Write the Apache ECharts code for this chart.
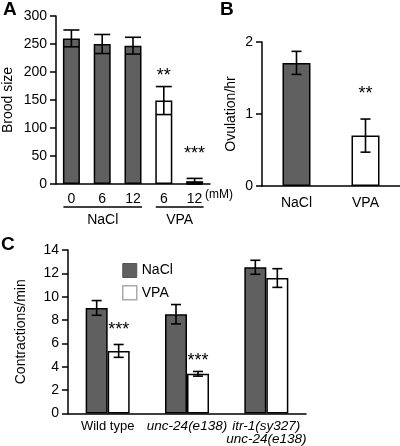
<!DOCTYPE html>
<html><head><meta charset="utf-8">
<script src="https://cdn.jsdelivr.net/npm/echarts@6/dist/echarts.min.js"></script>
<style>html,body{margin:0;padding:0;background:#fff}#c{width:400px;height:446px}</style>
</head><body><div id="c"></div>
<script>
// ---- Panel A: brood size ----
const broodCats = ['0', '6', '12', '6', '12'];
const broodGroup = ['NaCl', 'NaCl', 'NaCl', 'VPA', 'VPA'];
const broodMean = [260, 250, 247, 149, 5];
const broodErr = [15, 17, 15, 25, 5];
const broodStars = ['', '', '', '**', '***'];
const broodStarY = [null, null, null, 200, 60];
const broodGroupNames = ['NaCl', 'VPA'];
const broodGroupRanges = [[0, 2], [3, 4]];
const broodTicks = [0, 300, 50];

// ---- Panel B: ovulation ----
const ovCats = ['NaCl', 'VPA'];
const ovMean = [1.71, 0.70];
const ovErr = [0.16, 0.23];
const ovStars = ['', '**'];
const ovStarY = [null, 1.33];
const ovTicks = [0, 2, 1];

// ---- Panel C: contractions ----
const strainCats = ['Wild type', 'unc-24(e138)', 'itr-1(sy327)\nunc-24(e138)'];
const strainItalic = [false, true, true];
const contrNaCl = [9.04, 8.5, 12.52];
const contrNaClErr = [0.63, 0.83, 0.6];
const contrVPA = [5.36, 3.4, 11.6];
const contrVPAErr = [0.55, 0.2, 0.8];
const contrStars = ['***', '***', ''];
const contrStarY = [7.5, 4.8, null];
const contrTicks = [0, 14, 2];

const F = '"Liberation Sans", Arial, Helvetica, sans-serif';
const GRAY = '#606060';
const groupColor = {NaCl: GRAY, VPA: '#ffffff'};
const black = '#000';
const STAR_FS = 18;

function yAx(grid, t, name, gap) {
  return {
    gridIndex: grid, type: 'value', min: t[0], max: t[1], interval: t[2],
    name: name, nameLocation: 'middle', nameGap: gap,
    nameTextStyle: {color: black, fontSize: 14, fontFamily: F},
    axisLine: {show: true, lineStyle: {color: black, width: 1.5}},
    axisTick: {show: true, length: 6, lineStyle: {color: black, width: 1.5}},
    axisLabel: {color: black, fontSize: 14, fontFamily: F, margin: 9},
    splitLine: {show: false}
  };
}
function xAx(grid, data, extra) {
  return Object.assign({
    gridIndex: grid, type: 'category', data: data,
    axisTick: {show: false},
    axisLine: {lineStyle: {color: black, width: 1.5}},
    axisLabel: {color: black, fontSize: 14, fontFamily: F, margin: 8}
  }, extra || {});
}
function errSeries(ax, means, errs, stars, starY, offset, cap) {
  return {
    type: 'custom', xAxisIndex: ax, yAxisIndex: ax, silent: true, z: 10,
    data: means.map((m, i) => [i, m, errs[i]]),
    encode: {x: 0, y: 1},
    renderItem: function (params, api) {
      const i = api.value(0), m = api.value(1), e = api.value(2);
      const t = api.coord([i, m + e]), b = api.coord([i, m - e]);
      const x = t[0] + offset;
      const st = {stroke: black, lineWidth: 1.6};
      const ch = [
        {type: 'line', shape: {x1: x, y1: t[1], x2: x, y2: b[1]}, style: st},
        {type: 'line', shape: {x1: x - cap / 2, y1: t[1], x2: x + cap / 2, y2: t[1]}, style: st},
        {type: 'line', shape: {x1: x - cap / 2, y1: b[1], x2: x + cap / 2, y2: b[1]}, style: st}
      ];
      const idx = params.dataIndex;
      if (stars[idx]) {
        const s = api.coord([i, starY[idx]]);
        ch.push({type: 'text', x: x, y: s[1] + STAR_FS * 0.22, style: {text: stars[idx], fill: black, font: STAR_FS + 'px ' + F, align: 'center', verticalAlign: 'middle'}});
      }
      return {type: 'group', children: ch};
    }
  };
}

const option = {
  animation: false,
  backgroundColor: '#fff',
  grid: [
    {left: 55, top: 16, width: 155, height: 168},
    {left: 262, top: 42, width: 138, height: 144},
    {left: 68, top: 250, width: 238, height: 167}
  ],
  xAxis: [
    xAx(0, broodCats),
    xAx(1, ovCats, {axisLabel: {color: black, fontSize: 14, fontFamily: F, margin: 10}}),
    xAx(2, strainCats, {axisLabel: {
      color: black, fontSize: 13, fontFamily: F, margin: 6, lineHeight: 13, interval: 0,
      formatter: function (v, i) { return strainItalic[i] ? v.split('\n').map(s => '{it|' + s + '}').join('\n') : v; },
      rich: {it: {fontStyle: 'italic', fontSize: 13.5, fontFamily: F, color: black, lineHeight: 13}}
    }})
  ],
  yAxis: [
    yAx(0, broodTicks, 'Brood size', 41),
    yAx(1, ovTicks, 'Ovulation/hr', 24),
    yAx(2, contrTicks, 'Contractions/min', 40)
  ],
  legend: {
    data: [
      {name: 'NaCl', itemStyle: {color: GRAY, borderColor: '#555', borderWidth: 1}},
      {name: 'VPA', itemStyle: {color: '#fff', borderColor: '#aaa', borderWidth: 1.5}}
    ],
    orient: 'vertical', left: 117, top: 258, itemWidth: 14, itemHeight: 14, itemGap: 7,
    icon: 'rect', selectedMode: false,
    textStyle: {color: black, fontSize: 14, fontFamily: F}
  },
  series: [
    {
      name: 'brood', type: 'bar', xAxisIndex: 0, yAxisIndex: 0, barWidth: 17,
      data: broodMean.map((v, i) => ({value: v, itemStyle: {color: groupColor[broodGroup[i]]}})),
      itemStyle: {borderColor: black, borderWidth: 1.5}
    },
    errSeries(0, broodMean, broodErr, broodStars, broodStarY, 0, 16),
    {
      type: 'custom', xAxisIndex: 0, yAxisIndex: 0, silent: true,
      data: broodGroupRanges.map(r => [r[0], 0]),
      encode: {x: 0, y: 1},
      renderItem: function (params, api) {
        const r = broodGroupRanges[params.dataIndex];
        const a = api.coord([r[0], 0]), b = api.coord([r[1], 0]);
        const y = a[1] + 23;
        return {type: 'group', children: [
          {type: 'line', shape: {x1: a[0] - 8, y1: y, x2: b[0] + 9, y2: y}, style: {stroke: black, lineWidth: 1.5}},
          {type: 'text', x: (a[0] + b[0]) / 2 + 0.5, y: y + 13, style: {text: broodGroupNames[params.dataIndex], fill: black, font: '14px ' + F, align: 'center', verticalAlign: 'middle'}}
        ]};
      }
    },
    {
      name: 'ov', type: 'bar', xAxisIndex: 1, yAxisIndex: 1, barWidth: 28,
      data: ovMean.map((v, i) => ({value: v, itemStyle: {color: groupColor[ovCats[i]]}})),
      itemStyle: {borderColor: black, borderWidth: 1.5}
    },
    errSeries(1, ovMean, ovErr, ovStars, ovStarY, 0, 10),
    {
      name: 'NaCl', type: 'bar', xAxisIndex: 2, yAxisIndex: 2, barWidth: 22, barGap: '0%',
      data: contrNaCl, itemStyle: {color: GRAY, borderColor: black, borderWidth: 1.5}
    },
    {
      name: 'VPA', type: 'bar', xAxisIndex: 2, yAxisIndex: 2, barWidth: 22, barGap: '0%',
      data: contrVPA, itemStyle: {color: '#fff', borderColor: black, borderWidth: 1.5}
    },
    errSeries(2, contrNaCl, contrNaClErr, contrNaCl.map(() => ''), contrStarY, -11, 10),
    errSeries(2, contrVPA, contrVPAErr, contrStars, contrStarY, 11, 10)
  ],
  graphic: [
    {type: 'text', left: 3, top: 0, style: {text: 'A', font: 'bold 19px ' + F, fill: black}},
    {type: 'text', left: 220, top: 0, style: {text: 'B', font: 'bold 19px ' + F, fill: black}},
    {type: 'text', left: 1, top: 235, style: {text: 'C', font: 'bold 19px ' + F, fill: black}},
    {type: 'text', left: 205, top: 189, style: {text: '(mM)', font: '12px ' + F, fill: black}}
  ]
};
const chart = echarts.init(document.getElementById('c'), null, {renderer: 'canvas'});
chart.setOption(option);
</script></body></html>
